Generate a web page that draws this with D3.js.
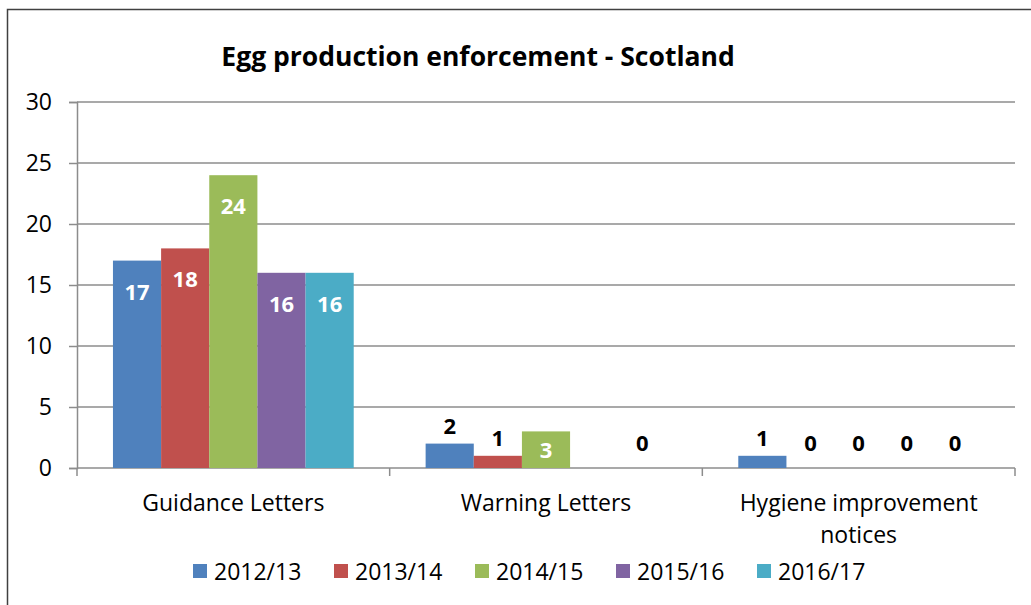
<!DOCTYPE html>
<html>
<head>
<meta charset="utf-8">
<script src="https://cdn.jsdelivr.net/npm/d3@7"></script>
<style>
  body { margin: 0; background: #fff; }
  svg text { font-family: "Open Sans", sans-serif; }
</style>
</head>
<body>
<div id="chart"></div>
<script>
const svgWidth = 1031;
const svgHeight = 605;

const margin = { top: 102, right: 16, bottom: 137, left: 77 };
const width = svgWidth - margin.left - margin.right;
const height = svgHeight - margin.top - margin.bottom;

// data
const categories = ["Guidance Letters", "Warning Letters", "Hygiene improvement notices"];
const years = ["2012/13", "2013/14", "2014/15", "2015/16", "2016/17"];
const colors = ["#4F81BD", "#C0504D", "#9BBB59", "#8064A2", "#4BACC6"];
const v2012 = [17, 2, 1];
const v2013 = [18, 1, 0];
const v2014 = [24, 3, 0];
const v2015 = [16, null, 0];
const v2016 = [16, 0, 0];
const yTicks = [0, 5, 10, 15, 20, 25, 30];

const seriesValues = [v2012, v2013, v2014, v2015, v2016];

const svg = d3.select("#chart")
  .append("svg")
  .attr("width", svgWidth)
  .attr("height", svgHeight);

// outer chart border (cropped at right/bottom)
svg.append("path")
  .attr("d", `M7.5,${svgHeight} V9.5 H${svgWidth}`)
  .attr("fill", "none")
  .attr("stroke", "#404040")
  .attr("stroke-width", 1.5);

svg.append("text")
  .attr("x", 478)
  .attr("y", 66)
  .attr("text-anchor", "middle")
  .attr("font-size", 26.5)
  .attr("font-weight", "bold")
  .text("Egg production enforcement - Scotland");

const chartGroup = svg.append("g")
  .attr("transform", `translate(${margin.left}, ${margin.top})`);

const x0 = d3.scaleBand()
  .domain(categories)
  .range([0, width])
  .paddingInner(0.23)
  .paddingOuter(0.115);

const x1 = d3.scaleBand()
  .domain(years)
  .range([0, x0.bandwidth()]);

const y = d3.scaleLinear()
  .domain([0, 30])
  .range([height, 0]);

// gridlines
chartGroup.append("g")
  .selectAll("line")
  .data(yTicks.filter(t => t > 0))
  .enter()
  .append("line")
  .attr("x1", 0)
  .attr("x2", width)
  .attr("y1", d => y(d))
  .attr("y2", d => y(d))
  .attr("stroke", "#8c8c8c")
  .attr("stroke-width", 1.5);

// left axis
const leftAxis = d3.axisLeft(y).tickValues(yTicks).tickSize(8).tickPadding(17);
const yAxis = chartGroup.append("g").call(leftAxis);
yAxis.select(".domain").attr("stroke", "#8c8c8c").attr("stroke-width", 1.5);
yAxis.selectAll(".tick line").attr("stroke", "#8c8c8c").attr("stroke-width", 1.5);
yAxis.selectAll(".tick text")
  .attr("font-size", 23)
  .attr("fill", "#000")
  .style("font-family", "'Open Sans', sans-serif");

// bottom axis: baseline plus category boundary ticks
const boundaries = d3.range(categories.length + 1).map(i => i * width / categories.length);
const xAxis = chartGroup.append("g").attr("transform", `translate(0, ${height})`);
xAxis.append("line")
  .attr("x1", 0).attr("x2", width)
  .attr("stroke", "#8c8c8c").attr("stroke-width", 1.5);
xAxis.selectAll(".btick")
  .data(boundaries)
  .enter()
  .append("line")
  .attr("x1", d => d).attr("x2", d => d)
  .attr("y1", 0).attr("y2", 8)
  .attr("stroke", "#8c8c8c").attr("stroke-width", 1.5);

const catLabels = [["Guidance Letters"], ["Warning Letters"], ["Hygiene improvement", "notices"]];
xAxis.selectAll(".clabel")
  .data(categories)
  .enter()
  .append("text")
  .attr("text-anchor", "middle")
  .attr("font-size", 23)
  .attr("x", d => x0(d) + x0.bandwidth() / 2)
  .attr("y", 43)
  .each(function(d, i) {
    d3.select(this).selectAll("tspan")
      .data(catLabels[i])
      .enter()
      .append("tspan")
      .attr("x", x0(d) + x0.bandwidth() / 2)
      .attr("dy", (t, j) => j === 0 ? 0 : 32)
      .text(t => t);
  });

// bars
const barData = [];
categories.forEach((c, ci) => {
  years.forEach((yr, si) => {
    barData.push({ cat: c, year: yr, color: colors[si], value: seriesValues[si][ci] });
  });
});

const bars = chartGroup.append("g")
  .selectAll("g")
  .data(barData.filter(d => d.value !== null))
  .enter()
  .append("g");

bars.append("rect")
  .attr("x", d => x0(d.cat) + x1(d.year))
  .attr("y", d => y(d.value))
  .attr("width", x1.bandwidth())
  .attr("height", d => height - y(d.value))
  .attr("fill", d => d.color);

const inside = d => height - y(d.value) >= 30;

bars.append("text")
  .attr("text-anchor", "middle")
  .attr("font-size", 22)
  .attr("font-weight", "bold")
  .attr("x", d => x0(d.cat) + x1(d.year) + x1.bandwidth() / 2)
  .attr("y", d => {
    const top = y(d.value);
    const mid = inside(d) ? Math.min(top + 31, (top + height) / 2) : Math.min(top - 18, height - 25);
    return mid + 8;
  })
  .attr("fill", d => inside(d) ? "#fff" : "#000")
  .text(d => d.value);

// legend
const legend = svg.append("g")
  .attr("transform", "translate(193, 564)");

const items = legend.selectAll("g")
  .data(years)
  .enter()
  .append("g")
  .attr("transform", (d, i) => `translate(${i * 141}, 0)`);

items.append("rect")
  .attr("width", 14)
  .attr("height", 14)
  .attr("fill", (d, i) => colors[i]);

items.append("text")
  .attr("x", 21)
  .attr("y", 16)
  .attr("font-size", 23)
  .text(d => d);
</script>
</body>
</html>
